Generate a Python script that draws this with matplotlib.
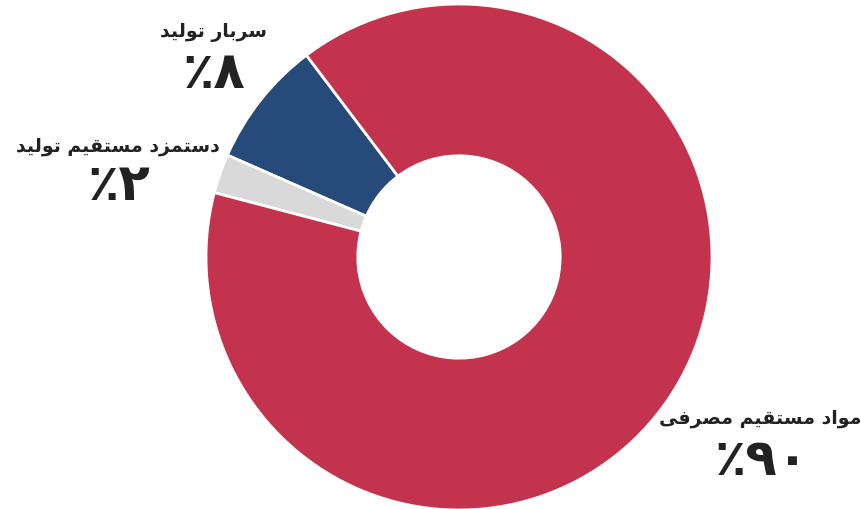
import matplotlib
matplotlib.use('Agg')
import matplotlib.pyplot as plt

# داده‌ها
labels = ['سربار تولید', 'دستمزد مستقیم تولید', 'مواد مستقیم مصرفی']
values = [8.1, 2.5, 89.4]
percent_labels = ['۸٪', '۲٪', '۹۰٪']
colors = ['#264A7A', '#D9D9D9', '#C3334D']

# شکل‌دهی ساده حروف فارسی (matplotlib خودش این کار را نمی‌کند)
FORMS = {
    'ا': ('\uFE8D', '\uFE8E', None, None),
    'ب': ('\uFE8F', '\uFE90', '\uFE91', '\uFE92'),
    'ت': ('\uFE95', '\uFE96', '\uFE97', '\uFE98'),
    'د': ('\uFEA9', '\uFEAA', None, None),
    'ر': ('\uFEAD', '\uFEAE', None, None),
    'ز': ('\uFEAF', '\uFEB0', None, None),
    'س': ('\uFEB1', '\uFEB2', '\uFEB3', '\uFEB4'),
    'ص': ('\uFEB9', '\uFEBA', '\uFEBB', '\uFEBC'),
    'ف': ('\uFED1', '\uFED2', '\uFED3', '\uFED4'),
    'ق': ('\uFED5', '\uFED6', '\uFED7', '\uFED8'),
    'ل': ('\uFEDD', '\uFEDE', '\uFEDF', '\uFEE0'),
    'م': ('\uFEE1', '\uFEE2', '\uFEE3', '\uFEE4'),
    'و': ('\uFEED', '\uFEEE', None, None),
    'ی': ('\uFBFC', '\uFBFD', '\uFBFE', '\uFBFF'),
}


def joins_next(c):
    return c in FORMS and FORMS[c][2] is not None


def shape(text):
    out = []
    for i, c in enumerate(text):
        if c not in FORMS:
            out.append(c)
            continue
        prev = text[i - 1] if i > 0 else ''
        nxt = text[i + 1] if i < len(text) - 1 else ''
        a = joins_next(prev)
        b = joins_next(c) and nxt in FORMS
        iso, fin, ini, med = FORMS[c]
        if a and b:
            out.append(med)
        elif a:
            out.append(fin)
        elif b:
            out.append(ini)
        else:
            out.append(iso)
    return ''.join(out)[::-1]


def shape_percent(text):
    # اعداد چپ به راست، علامت درصد سمت چپ
    return text[-1] + text[:-1]


W, H = 861, 510
fig = plt.figure(figsize=(W / 100, H / 100), dpi=100)

cx, cy, r = 459, 258, 253
ax = fig.add_axes([(cx - r) / W, (H - cy - r) / H, 2 * r / W, 2 * r / H])
ax.pie(values, colors=colors, startangle=127.1, counterclock=True,
       radius=1, wedgeprops=dict(width=0.6, edgecolor='white', linewidth=2))
ax.set_xlim(-1, 1)
ax.set_ylim(-1, 1)
ax.set_aspect('equal')
ax.axis('off')

# جای برچسب‌ها (پیکسل)
label_pos = [(213, 32), (118, 147), (760, 419)]
pct_pos = [(214, 74), (119, 186), (762, 461)]

for lab, pct, (lx, ly), (px, py) in zip(labels, percent_labels, label_pos, pct_pos):
    fig.text(lx / W, 1 - ly / H, shape(lab), ha='center', va='center',
             fontsize=13.6, fontweight='bold', color='#222222', family='DejaVu Sans')
    fig.text(px / W, 1 - py / H, shape_percent(pct), ha='center', va='center',
             fontsize=37, fontweight='bold', color='#222222', family='DejaVu Sans')

fig.savefig('out.png', dpi=100)
